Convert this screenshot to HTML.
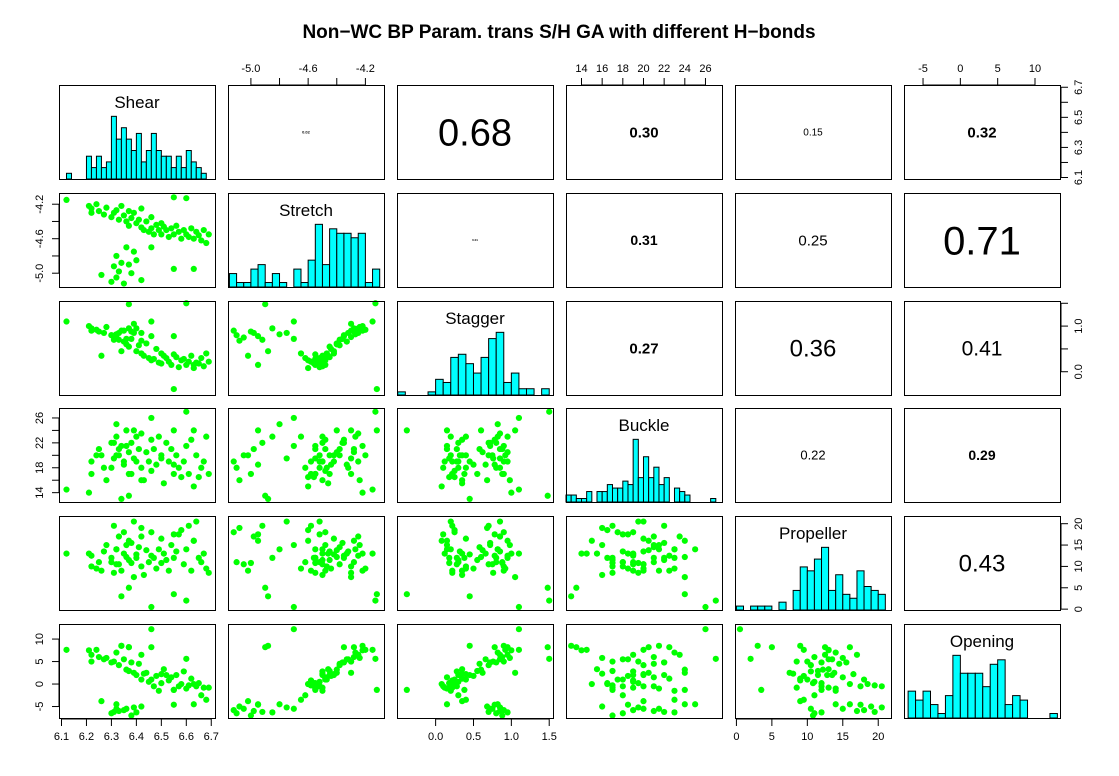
<!DOCTYPE html>
<html><head><meta charset="utf-8"><style>
html,body{margin:0;padding:0;background:#fff;}
svg{display:block;font-family:"Liberation Sans",Arial,sans-serif;}
</style></head><body>
<svg id="chart" width="1119" height="776" viewBox="0 0 1119 776">
<text x="559" y="38" text-anchor="middle" font-size="19" font-weight="bold">Non−WC BP Param. trans S/H GA with different H−bonds</text>
</svg>
<script>
const varNames=['Shear','Stretch','Stagger','Buckle','Propeller','Opening'];
const shear=[6.30,6.32,6.33,6.35,6.31,6.38,6.40,6.42,6.32,6.26,6.63,6.39,6.55,6.36,6.21,6.22,6.22,6.24,6.25,6.27,6.28,6.30,6.31,6.32,6.33,6.34,6.35,6.36,6.37,6.37,6.38,6.39,6.40,6.41,6.42,6.42,6.43,6.44,6.45,6.46,6.46,6.47,6.48,6.49,6.50,6.50,6.51,6.52,6.53,6.54,6.55,6.56,6.57,6.58,6.59,6.60,6.61,6.62,6.63,6.64,6.65,6.66,6.67,6.69,6.68,6.12,6.46,6.34,6.37,6.55,6.60];
const stretch=[-5.10,-5.05,-4.98,-5.12,-4.92,-5.00,-4.85,-5.08,-4.80,-5.02,-4.95,-4.75,-4.95,-4.70,-4.22,-4.25,-4.30,-4.20,-4.28,-4.32,-4.24,-4.35,-4.30,-4.27,-4.38,-4.22,-4.33,-4.40,-4.28,-4.45,-4.36,-4.30,-4.42,-4.38,-4.47,-4.25,-4.50,-4.40,-4.52,-4.35,-4.48,-4.55,-4.44,-4.50,-4.42,-4.55,-4.46,-4.50,-4.58,-4.48,-4.55,-4.45,-4.52,-4.60,-4.50,-4.55,-4.58,-4.48,-4.60,-4.52,-4.56,-4.62,-4.50,-4.55,-4.65,-4.15,-4.70,-4.88,-4.90,-4.12,-4.13];
const stagger=[0.80,0.75,0.85,0.90,0.70,0.88,0.95,0.68,0.82,0.35,0.15,0.85,0.78,0.72,1.00,0.95,0.90,0.92,0.88,0.85,0.98,0.80,0.76,0.82,0.70,0.90,0.66,0.60,0.95,0.55,0.72,1.05,0.45,0.58,0.40,0.85,0.35,0.62,0.30,0.78,0.25,0.28,0.50,0.20,0.40,0.18,0.35,0.30,0.22,0.15,0.38,0.32,0.10,0.25,0.28,0.15,0.22,0.35,0.08,0.20,0.18,0.30,0.12,0.22,0.40,1.10,1.10,0.45,1.48,-0.38,1.50];
const buckle=[18,20,21,19,22,17,23,16,25,20,24,19.5,18.5,21.5,14,19,17,20,21,18,16,22,19.5,23,20,21.5,18.5,24,20.5,17,22,24,19,21,18,23.5,16,20.5,19,22.5,17.5,21,18.5,23,20,19.5,15.5,22,19,21,17,20,18,16.5,19,21.5,17,22.5,15,20,16.5,18,19,17,23,14.5,26,13,13.5,24,27];
const propeller=[11,10.5,17,18,19.5,10.8,12,19,14,9,16,20.5,17.5,15,13,12.5,10,9.5,11,13.5,15,12,8.5,14,10.5,9.0,13,12.2,16,11.5,15.5,7.5,12.8,14.5,10,17,8,13.8,11,12.5,18,12,9.5,14,16.5,10.8,13,11.5,9,15,12,13.5,17.5,18.5,10.5,14,19.5,9,16,20.5,12,11,13,8.5,9.5,13,0.5,3,5,3.5,2];
const opening=[-6.5,-5.5,-6.0,-5.8,-6.2,-7.0,-6.3,-5.0,-4.5,-3.8,-4.5,-5.2,-4.6,-5.5,7.5,6.5,5.0,7.6,6.0,5.5,5.8,4.8,5.0,7.0,4.2,8.5,5.5,3.2,8.2,2.9,4.8,2.5,2.0,4.5,1.0,6.5,2.3,2.5,0.5,8.2,1.0,-0.5,1.8,-1.5,2.2,0.2,3.3,2.0,0.8,1.5,-1.3,2.0,-0.5,0.0,2.8,-1.0,-0.3,1.2,0.0,-0.5,0.2,-2.5,-0.8,-0.8,-3.5,7.6,12.2,8.5,8.2,-1.3,5.6];
const series=[shear,stretch,stagger,buckle,propeller,opening];
const domMin=[6.09,-5.16,-0.51,12.5,-0.2,-7.55];
const domMax=[6.715,-4.07,1.55,27.6,21.8,13.35];
const histStart=[6.12,-5.15,-0.5,12.5,0,-7];
const histWidth=[0.02,0.05,0.1,0.5,1,1];
const shearCounts=[1,0,0,0,4,2,4,2,3,11,7,9,7,5,8,3,5,8,5,4,4,2,4,2,5,3,2,1];
const stretchCounts=[3,1,1,4,5,1,3,1,0,4,1,6,14,5,13,12,12,11,12,1,4];
const staggerCounts=[1,0,0,0,1,5,4,12,13,10,7,12,18,20,4,7,2,2,0,2];
const buckleCounts=[2,2,1,1,3,0,3,3,5,4,4,6,5,18,7,13,7,10,5,7,0,4,3,2,0,0,0,0,1];
const propellerCounts=[1,0,1,1,1,0,2,0,5,11,10,13,16,5,9,4,3,10,6,5,4];
const openingCounts=[6,4,6,3,1,5,14,10,10,10,7,12,13,3,5,4,0,0,0,1];
const histCounts=[shearCounts,stretchCounts,staggerCounts,buckleCounts,propellerCounts,openingCounts];
const corrRow=[0,0,0,0,0,1,1,1,1,2,2,2,3,3,4];
const corrCol=[1,2,3,4,5,2,3,4,5,3,4,5,4,5,5];
const corrText=['0.02','0.68','0.30','0.15','0.32','0.01','0.31','0.25','0.71','0.27','0.36','0.41','0.22','0.29','0.43'];
const corrSize=[4,38,15,10,15,3,14,15,40,15,24,21,13,14,24];
const corrBold=[1,0,1,0,1,1,1,0,0,1,0,0,0,1,0];
const shearTicks=[6.1,6.2,6.3,6.4,6.5,6.6,6.7];
const stretchTicks=[-5.0,-4.8,-4.6,-4.4,-4.2];
const staggerTicks=[0.0,0.5,1.0,1.5];
const buckleTicks=[14,16,18,20,22,24,26];
const propellerTicks=[0,5,10,15,20];
const openingTicks=[-5,0,5,10];

const NS='http://www.w3.org/2000/svg';
const svg=document.getElementById('chart');
const colLeft=[59,228,397,566,735,904];
const rowTop=[85,193,301,408,516,624];
const W=156,H=94;
function mk(tag,attrs,parent){const e=document.createElementNS(NS,tag);for(const k in attrs)e.setAttribute(k,attrs[k]);(parent||svg).appendChild(e);return e;}
function sx(v,c,val){return colLeft[c]+(val-domMin[v])/(domMax[v]-domMin[v])*W;}
function sy(v,r,val){return rowTop[r]+H-(val-domMin[v])/(domMax[v]-domMin[v])*H;}
const slug=['shear','stretch','stagger','buckle','propeller','opening'];

for(let r=0;r<6;r++){for(let c=0;c<6;c++){
  const g=mk('g',{});
  
  
  if(r===c){
    const cnt=histCounts[r];const mx=Math.max(...cnt);
    for(let i=0;i<cnt.length;i++){ if(cnt[i]===0)continue;
      const x0=sx(r,c,histStart[r]+i*histWidth[r]),x1=sx(r,c,histStart[r]+(i+1)*histWidth[r]);
      const h=cnt[i]/mx/1.5*H;
      const b=mk('rect',{x:x0,y:rowTop[r]+H-h,width:x1-x0,height:h,fill:'#00ffff',stroke:'#000','stroke-width':1},g);
      
      
    }
    const t=mk('text',{x:colLeft[c]+W/2,y:rowTop[r]+23,'text-anchor':'middle','font-size':17},g);
    t.textContent=varNames[r];
    
    
  } else if(r>c){
    const xs=series[c],ys=series[r];
    for(let i=0;i<xs.length;i++){
      const p=mk('circle',{cx:sx(c,c,xs[i]),cy:sy(r,r,ys[i]),r:3.1,fill:'#00ff00'},g);
      
      
    }
  }
  const box=mk('rect',{x:colLeft[c]+0.5,y:rowTop[r]+0.5,width:W,height:H,fill:'none',stroke:'#000','stroke-width':1},g);
  
  
}}
for(let k=0;k<corrText.length;k++){
  const r=corrRow[k],c=corrCol[k];
  const t=mk('text',{x:colLeft[c]+W/2,y:rowTop[r]+H/2+corrSize[k]*0.36,'text-anchor':'middle','font-size':corrSize[k],'font-weight':corrBold[k]?'bold':'normal'});
  t.textContent=corrText[k];
  
  
}
function axis(v,side,idx,ticks,labels){
  const g=mk('g',{stroke:'#000'});
  
  
  let pos=ticks.map(t=> (side==='top'||side==='bottom')?sx(v,idx,t):sy(v,idx,t));
  if(side==='top'||side==='bottom'){
    const y0=side==='top'?rowTop[0]:rowTop[5]+H+1, d=side==='top'?-7:7;
    mk('line',{x1:pos[0],x2:pos[pos.length-1],y1:y0,y2:y0},g);
    pos.forEach((p,i)=>{mk('line',{x1:p,x2:p,y1:y0,y2:y0+d},g);
      if(labels[i]!==null){const t=mk('text',{x:p,y:side==='top'?y0-13:y0+21,'text-anchor':'middle','font-size':11,stroke:'none'},g);t.textContent=labels[i];
      
      }});
  } else {
    const x0=side==='left'?colLeft[0]:colLeft[5]+W+1, d=side==='left'?-7:7;
    mk('line',{x1:x0,x2:x0,y1:pos[0],y2:pos[pos.length-1]},g);
    pos.forEach((p,i)=>{mk('line',{x1:x0,x2:x0+d,y1:p,y2:p},g);
      if(labels[i]!==null){const lx=side==='left'?x0-16:x0+21;const t=mk('text',{x:lx,y:p,'text-anchor':'middle','font-size':11,stroke:'none',transform:'rotate(-90 '+lx+' '+p+')'},g);t.textContent=labels[i];
      
      }});
  }
}
axis(0,'bottom',0,shearTicks,shearTicks.map(t=>t.toFixed(1)));
axis(2,'bottom',2,staggerTicks,staggerTicks.map(t=>t.toFixed(1)));
axis(4,'bottom',4,propellerTicks,propellerTicks.map(String));
axis(1,'top',1,stretchTicks,stretchTicks.map((t,i)=>i%2===0?t.toFixed(1):null));
axis(3,'top',3,buckleTicks,buckleTicks.map(String));
axis(5,'top',5,openingTicks,openingTicks.map(String));
axis(0,'right',0,shearTicks,shearTicks.map((t,i)=>i%2===0?t.toFixed(1):null));
axis(2,'right',2,staggerTicks,staggerTicks.map((t,i)=>i%2===0?t.toFixed(1):null));
axis(4,'right',4,propellerTicks,propellerTicks.map(String));
axis(1,'left',1,stretchTicks,stretchTicks.map((t,i)=>i%2===0?t.toFixed(1):null));
axis(3,'left',3,buckleTicks,buckleTicks.map((t,i)=>i%2===0?String(t):null));
axis(5,'left',5,openingTicks,openingTicks.map(String));
</script>
</body></html>
